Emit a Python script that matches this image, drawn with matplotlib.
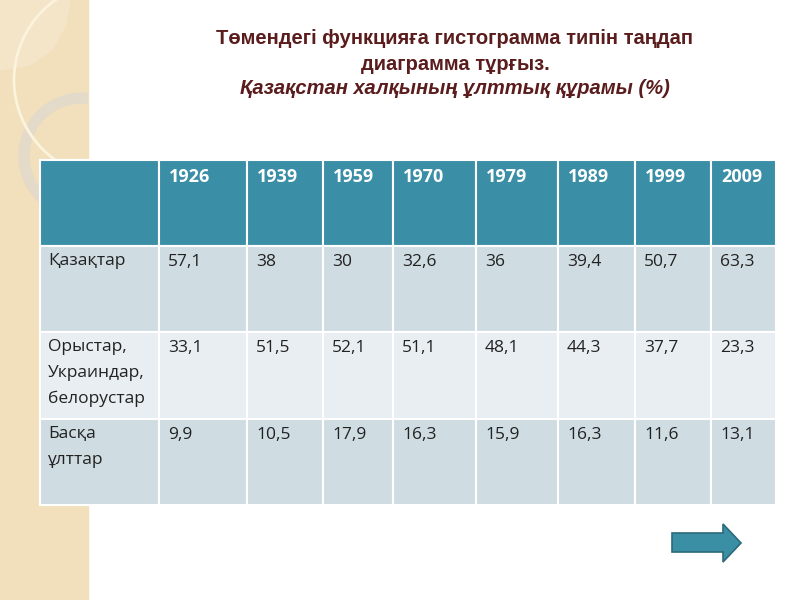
import matplotlib.pyplot as plt
from matplotlib.patches import Rectangle, Circle, Polygon

# Data
years = ['1926', '1939', '1959', '1970', '1979', '1989', '1999', '2009']
groups = ['Қазақтар', 'Орыстар,\nУкраиндар,\nбелорустар', 'Басқа\nұлттар']
kazakhs = [57.1, 38, 30, 32.6, 36, 39.4, 50.7, 63.3]
slavs = [33.1, 51.5, 52.1, 51.1, 48.1, 44.3, 37.7, 23.3]
others = [9.9, 10.5, 17.9, 16.3, 15.9, 16.3, 11.6, 13.1]
values = [kazakhs, slavs, others]

title_lines = ['Төмендегі функцияға гистограмма типін таңдап',
               'диаграмма тұрғыз.',
               'Қазақстан халқының ұлттық құрамы (%)']

# layout (pixels)
col_edges = [40, 159, 247, 323, 393, 476, 558, 635, 711, 776]
row_edges = [160, 246, 332, 419, 505]
head_col = '#3A8EA6'
row_cols = ['#CFDCE2', '#E8EEF1', '#CFDCE2']

plt.rcParams['font.family'] = ['Open Sans', 'DejaVu Sans']

fig = plt.figure(figsize=(8, 6), dpi=100)
ax = fig.add_axes([0, 0, 1, 1])
ax.set_xlim(0, 800)
ax.set_ylim(600, 0)
ax.axis('off')

# left decorative strip
ax.add_patch(Rectangle((0, 0), 88, 600, color='#F2E0BC', zorder=0))
clip = Rectangle((0, 0), 88, 600, transform=ax.transData)
light = Polygon([(0, 0), (70, 0), (66, 25), (52, 50), (30, 65), (0, 70)],
                closed=True, color='#F4E5C8', zorder=1)
ax.add_patch(light)
ring = Circle((82, 156), 58, fill=False, lw=8, ec='#E4DACA', zorder=2)
ax.add_patch(ring)
ring.set_clip_path(clip)
thin = Circle((112, 80), 98, fill=False, lw=2, ec='#FBF3DD', zorder=3)
ax.add_patch(thin)
thin.set_clip_path(clip)

# title
title_col = '#5A1C1C'
for i, line in enumerate(title_lines):
    ax.text(455, 39 + 25 * i, line, ha='center', va='center', fontsize=14.5,
            fontweight='bold', style='italic' if i == 2 else 'normal',
            color=title_col, family='Liberation Sans')

# table
def fmt(v):
    return f'{v:g}'.replace('.', ',')

n_cols = len(col_edges) - 1
for c in range(n_cols):
    x0, x1 = col_edges[c], col_edges[c + 1]
    y0, y1 = row_edges[0], row_edges[1]
    ax.add_patch(Rectangle((x0, y0), x1 - x0, y1 - y0, fc=head_col, ec='white', lw=1.5, zorder=4))
    if c > 0:
        ax.text(x0 + 10, y0 + 8, years[c - 1], ha='left', va='top', fontsize=13,
                fontweight='bold', color='white', zorder=5)

for r, grp in enumerate(groups):
    y0, y1 = row_edges[r + 1], row_edges[r + 2]
    for c in range(n_cols):
        x0, x1 = col_edges[c], col_edges[c + 1]
        ax.add_patch(Rectangle((x0, y0), x1 - x0, y1 - y0, fc=row_cols[r], ec='white', lw=1.5, zorder=4))
    ax.text(col_edges[0] + 8, y0 + 7, grp, ha='left', va='top', fontsize=12.5,
            color='#222222', linespacing=1.8, zorder=5)
    for c, v in enumerate(values[r]):
        ax.text(col_edges[c + 1] + 9, y0 + 8, fmt(v), ha='left', va='top', fontsize=12.5,
                color='#222222', zorder=5)

# navigation arrow
ax.add_patch(Polygon([(672, 533), (723, 533), (723, 524), (741, 543),
                      (723, 562), (723, 552), (672, 552)], closed=True,
                     fc='#3A8FA4', ec='#2B6A7A', lw=1.2, zorder=5))

fig.savefig('out.png', dpi=100)
